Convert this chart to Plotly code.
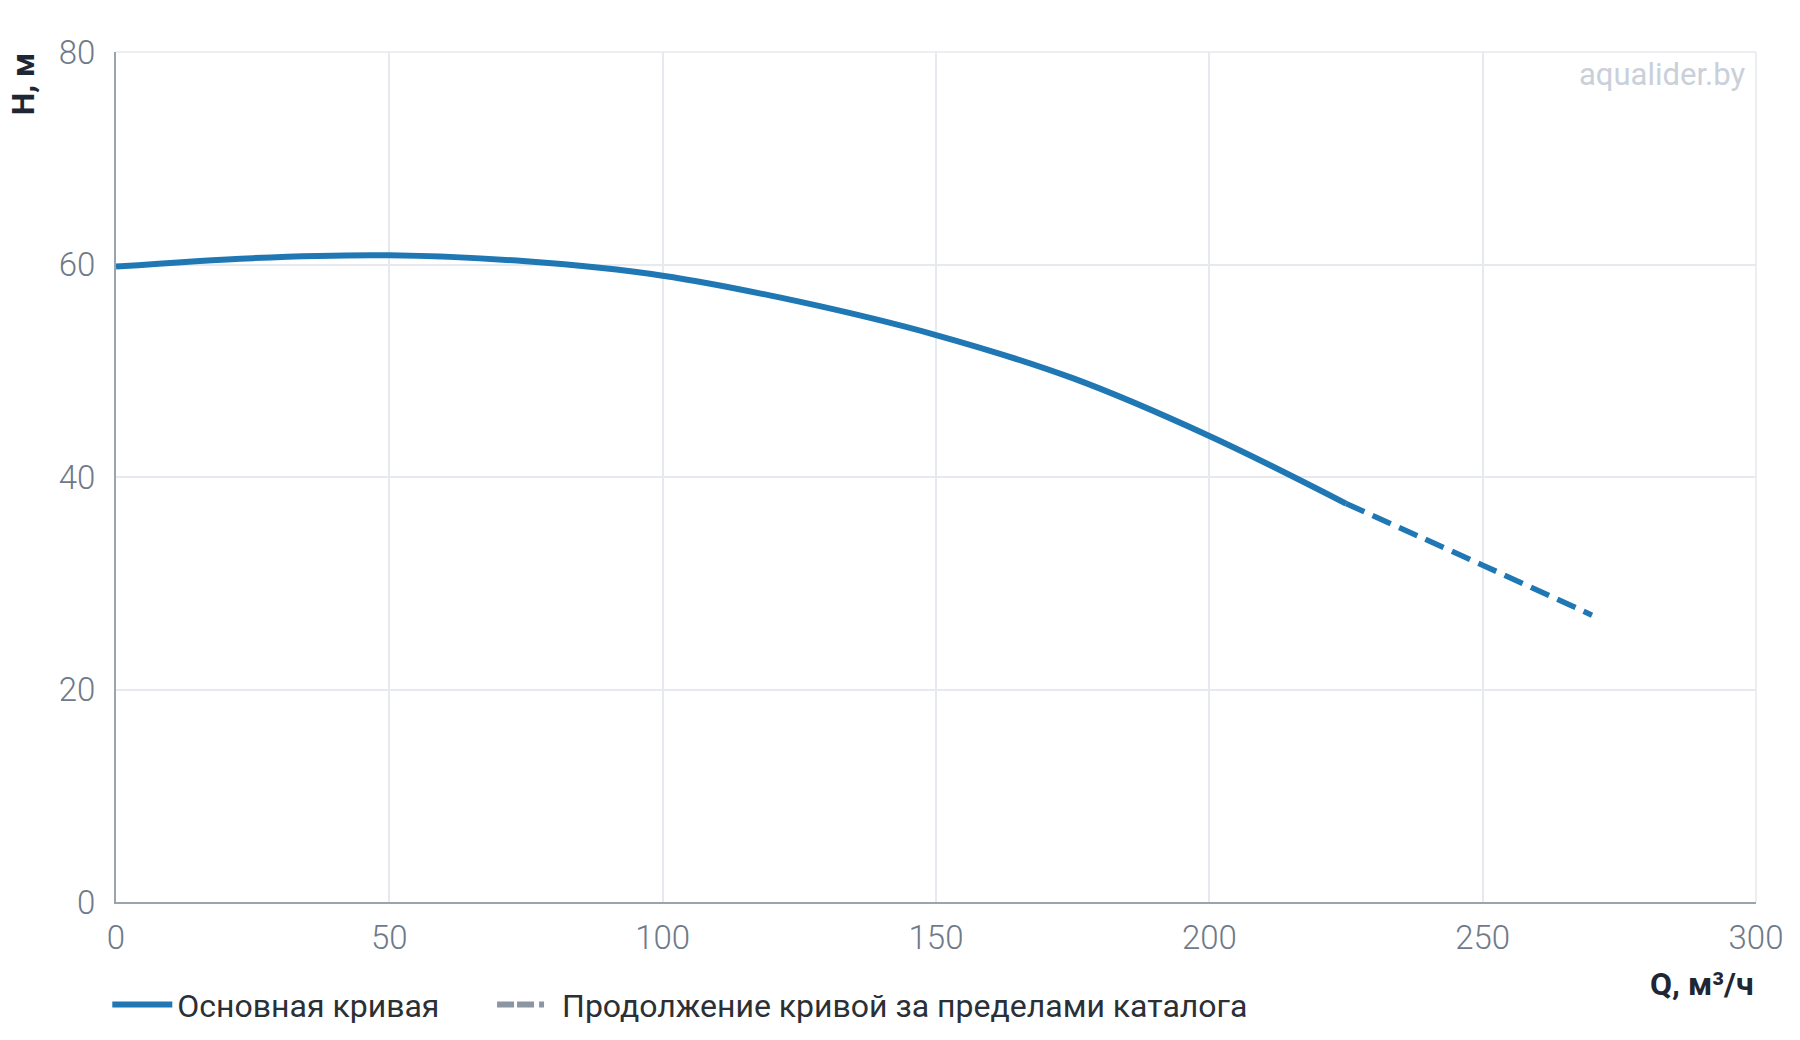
import plotly.graph_objects as go

# Data
q_main = [0, 25, 50, 75, 100, 125, 150, 175, 200, 225]
h_main = [59.8, 60.6, 60.86, 60.3, 58.95, 56.5, 53.36, 49.3, 43.86, 37.5]
q_ext = [225, 250, 270]
h_ext = [37.5, 31.7, 27.0]

x_ticks = [0, 50, 100, 150, 200, 250, 300]
y_ticks = [0, 20, 40, 60, 80]

name_main = "Основная кривая"
name_ext = "Продолжение кривой за пределами каталога"

BLUE = "#1f77b4"
FONT = "Roboto"

fig = go.Figure()
fig.add_trace(go.Scatter(x=q_main, y=h_main, mode="lines", name=name_main + "&nbsp;" * 6,
                         line=dict(color=BLUE, width=6, shape="spline"), showlegend=True))
fig.add_trace(go.Scatter(x=q_ext, y=h_ext, mode="lines", name="ext",
                         line=dict(color=BLUE, width=5.5, dash="20px,9px", shape="spline"),
                         showlegend=False))
fig.add_trace(go.Scatter(x=[None], y=[None], mode="lines", name=name_ext,
                         line=dict(color="#8c96a3", width=6, dash="17px,3px,17px,5px,5px,60px")))

fig.update_layout(
    width=1800, height=1040,
    margin=dict(l=116, r=44, t=52, b=138, autoexpand=False),
    paper_bgcolor="white", plot_bgcolor="white",
    font=dict(family=FONT, size=32, color="#2b2f36"),
    showlegend=True,
    legend=dict(orientation="h", x=-0.0053, xanchor="left", y=-0.1207, yanchor="middle",
                font=dict(family=FONT, size=32, color="#2b2f36"),
                itemwidth=60, bgcolor="rgba(0,0,0,0)", tracegroupgap=0),
    xaxis=dict(range=[0, 300], tickvals=x_ticks, ticktext=[str(v) for v in x_ticks],
               showgrid=True, gridcolor="#e6e9ee", gridwidth=1.5,
               showline=True, linecolor="#9aa3ae", linewidth=2,
               zeroline=False, ticks="", ticklabelstandoff=5,
               tickfont=dict(family=FONT, size=33, color="#6f7a89", weight=300), mirror=False),
    yaxis=dict(range=[0, 80], tickvals=y_ticks, ticktext=[str(v) for v in y_ticks],
               showgrid=True, gridcolor="#e6e9ee", gridwidth=1.5,
               showline=True, linecolor="#9aa3ae", linewidth=2,
               zeroline=False, ticks="", ticklabelstandoff=12,
               tickfont=dict(family=FONT, size=33, color="#6f7a89", weight=300)),
    shapes=[
        dict(type="line", xref="paper", yref="paper", x0=0, x1=1, y0=1, y1=1,
             line=dict(color="#e6e9ee", width=1.5)),
        dict(type="line", xref="paper", yref="paper", x0=1, x1=1, y0=0, y1=1,
             line=dict(color="#e6e9ee", width=1.5)),
    ],
    annotations=[
        dict(text="<b>H, м</b>", xref="paper", yref="paper", x=-0.0567, y=0.962,
             xanchor="center", yanchor="middle", textangle=-90, showarrow=False,
             font=dict(family=FONT, size=32, color="#1e2733")),
        dict(text="<b>Q, м³/ч</b>", xref="paper", yref="paper", x=1.0, y=-0.0965,
             xanchor="right", yanchor="middle", showarrow=False,
             font=dict(family=FONT, size=32, color="#1e2733")),
        dict(text="aqualider.by", xref="paper", yref="paper", x=0.9945, y=0.973,
             xanchor="right", yanchor="middle", showarrow=False,
             font=dict(family=FONT, size=31, color="#c9d0da")),
    ],
)

fig.write_html("out.html")
